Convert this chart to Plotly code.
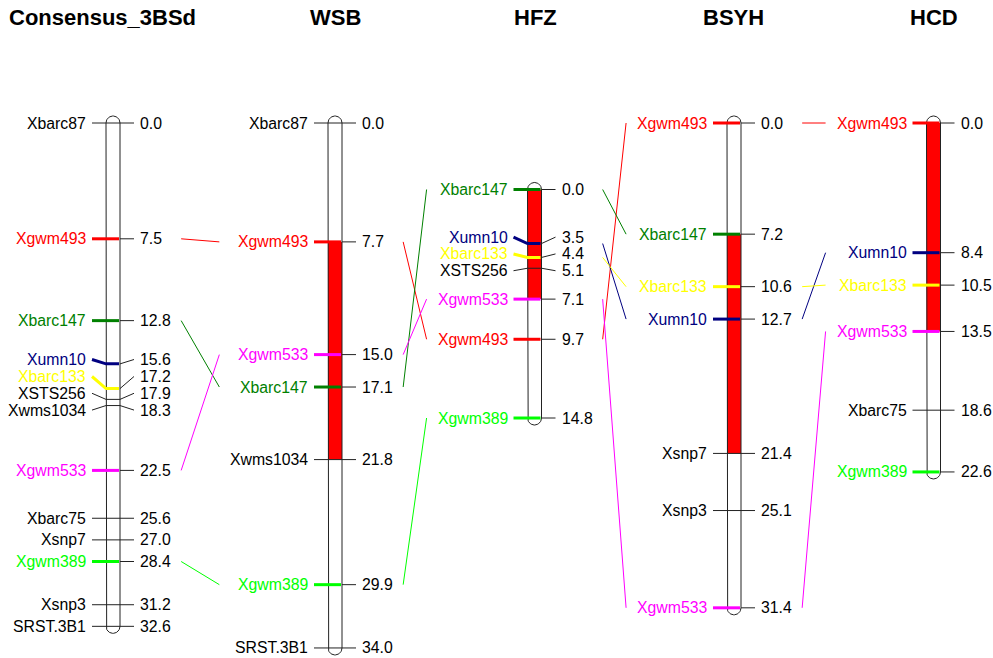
import numpy as np
import plotly.graph_objects as go

# ---------------- data ----------------
map_names = ["Consensus_3BSd", "WSB", "HFZ", "BSYH", "HCD"]

cons_markers = ["Xbarc87", "Xgwm493", "Xbarc147", "Xumn10", "Xbarc133", "XSTS256", "Xwms1034",
                "Xgwm533", "Xbarc75", "Xsnp7", "Xgwm389", "Xsnp3", "SRST.3B1"]
cons_pos = [0.0, 7.5, 12.8, 15.6, 17.2, 17.9, 18.3, 22.5, 25.6, 27.0, 28.4, 31.2, 32.6]

wsb_markers = ["Xbarc87", "Xgwm493", "Xgwm533", "Xbarc147", "Xwms1034", "Xgwm389", "SRST.3B1"]
wsb_pos = [0.0, 7.7, 15.0, 17.1, 21.8, 29.9, 34.0]

hfz_markers = ["Xbarc147", "Xumn10", "Xbarc133", "XSTS256", "Xgwm533", "Xgwm493", "Xgwm389"]
hfz_pos = [0.0, 3.5, 4.4, 5.1, 7.1, 9.7, 14.8]

bsyh_markers = ["Xgwm493", "Xbarc147", "Xbarc133", "Xumn10", "Xsnp7", "Xsnp3", "Xgwm533"]
bsyh_pos = [0.0, 7.2, 10.6, 12.7, 21.4, 25.1, 31.4]

hcd_markers = ["Xgwm493", "Xumn10", "Xbarc133", "Xgwm533", "Xbarc75", "Xgwm389"]
hcd_pos = [0.0, 8.4, 10.5, 13.5, 18.6, 22.6]

# QTL interval (red fill) per map
qtl_start = [None, 7.7, 0.0, 7.2, 0.0]
qtl_end = [None, 21.8, 7.1, 21.4, 13.5]

marker_colors = {"Xgwm493": "#FF0000", "Xbarc147": "#008000", "Xumn10": "#000080",
                 "Xbarc133": "#FFFF00", "Xgwm533": "#FF00FF", "Xgwm389": "#00FF00"}

all_markers = [cons_markers, wsb_markers, hfz_markers, bsyh_markers, hcd_markers]
all_pos = [cons_pos, wsb_pos, hfz_pos, bsyh_pos, hcd_pos]

# ---------------- layout parameters ----------------
W, H = 993, 658
SCALE = 15.44            # px per cM
TOP_PX = 123.0           # pixel of 0 cM
PX = 1.0 / SCALE         # one pixel in cM
centers = [113, 335, 534.5, 734, 933.5]
title_x = [102, 335, 535, 733, 933.5]
offsets_px = [0, 0, 66.5, 0, 0]  # vertical shift of each map in px
R = 7                    # half width of chromosome
FS = 15.8
FONT = "Liberation Sans, Arial, sans-serif"

aw = {'0': .556, '1': .556, '2': .556, '3': .556, '4': .556, '5': .556, '6': .556, '7': .556,
      '8': .556, '9': .556, '.': .278, 'X': .667, 'b': .556, 'a': .556, 'r': .333, 'c': .5,
      'g': .556, 'w': .722, 'm': .833, 'u': .556, 'n': .556, 's': .5, 'S': .667, 'T': .611,
      'R': .722, 'B': .667, 'p': .556}


def tw(s):
    return sum(aw.get(ch, .556) for ch in s) * 15.5


def spread_sym(ys, gap):
    L = list(ys)
    for _ in range(500):
        moved = False
        for i in range(1, len(L)):
            d = L[i] - L[i - 1]
            if d < gap - 1e-9:
                sh = (gap - d) / 2
                L[i - 1] -= sh
                L[i] += sh
                moved = True
        if not moved:
            break
    return L


def spread_up(ys, gap):
    L = list(ys)
    for i in range(len(L) - 2, -1, -1):
        if L[i] > L[i + 1] - gap:
            L[i] = L[i + 1] - gap
    return L


def spread(ys, gap):
    a = spread_sym(ys, gap)
    b = spread_up(ys, gap)
    return [(u + v) / 2 for u, v in zip(a, b)]


fig = go.Figure()
annotations = []
thin_x, thin_y = [], []
col_lines = {}
geo = []

for m, (names, pos) in enumerate(zip(all_markers, all_pos)):
    c = centers[m]
    off = offsets_px[m] * PX
    ys = [p + off for p in pos]
    lys = spread(ys, 16.8 * PX)
    # QTL fill
    if qtl_start[m] is not None:
        s, e = qtl_start[m] + off, qtl_end[m] + off
        fig.add_trace(go.Scatter(x=[c - R, c + R, c + R, c - R, c - R], y=[s, s, e, e, s],
                                 mode="lines", fill="toself", fillcolor="#FF0000",
                                 line=dict(width=0), hoverinfo="skip", showlegend=False))
    # outline
    y0, y1 = ys[0], ys[-1]
    phi_b = np.linspace(np.pi, 0, 30)
    phi_t = np.linspace(0, -np.pi, 30)
    ox = [c - R] + list(c + R * np.cos(phi_b)) + list(c + R * np.cos(phi_t))
    oy = [y0] + list(y1 + R * np.sin(phi_b) * PX) + list(y0 + R * np.sin(phi_t) * PX)
    fig.add_trace(go.Scatter(x=ox, y=oy, mode="lines", line=dict(color="#222222", width=1),
                             hoverinfo="skip", showlegend=False))
    # markers
    for name, p, my, ly in zip(names, pos, ys, lys):
        col = marker_colors.get(name)
        if col:
            cx, cy = col_lines.setdefault(col, ([], []))
            cx += [c - 21, c - R, c + R - 1, None]
            cy += [ly, my, my, None]
            thin_x.extend([c + R, c + 21, None])
            thin_y.extend([my, ly, None])
        else:
            thin_x.extend([c - 21, c - R, c + R, c + 21, None])
            thin_y.extend([ly, my, my, ly, None])
        annotations.append(dict(x=c - 27, y=ly, xref="x", yref="y", text=name, showarrow=False,
                                xanchor="right", yanchor="middle", borderpad=0, borderwidth=0,
                                font=dict(family=FONT, size=FS, color=col or "#000000")))
        annotations.append(dict(x=c + 27, y=ly, xref="x", yref="y", text=f"{p:.1f}", showarrow=False,
                                xanchor="left", yanchor="middle", borderpad=0, borderwidth=0,
                                font=dict(family=FONT, size=FS, color="#000000")))
    geo.append(dict(c=c, ys=dict(zip(names, ys)),
                    rw=max(tw(f"{p:.1f}") for p in pos), lw=max(tw(n) for n in names)))
    annotations.append(dict(x=title_x[m], y=1 - 17 / H, xref="x", yref="paper",
                            text=f"<b>{map_names[m]}</b>", showarrow=False,
                            xanchor="center", yanchor="middle",
                            font=dict(family=FONT, size=22, color="#000000")))

# connectors between adjacent maps
conn = {}
for m in range(len(geo) - 1):
    a, b = geo[m], geo[m + 1]
    xs = a["c"] + 27 + a["rw"] + 11
    xe = b["c"] - 27 - b["lw"] - 12
    for name, col in marker_colors.items():
        if name in a["ys"] and name in b["ys"]:
            cx, cy = conn.setdefault(col, ([], []))
            cx += [xs, xe, None]
            cy += [a["ys"][name], b["ys"][name], None]

for col, (cx, cy) in conn.items():
    fig.add_trace(go.Scatter(x=cx, y=cy, mode="lines", line=dict(color=col, width=1),
                             hoverinfo="skip", showlegend=False))

fig.add_trace(go.Scatter(x=thin_x, y=thin_y, mode="lines", line=dict(color="#222222", width=1),
                         hoverinfo="skip", showlegend=False))
for col, (cx, cy) in col_lines.items():
    fig.add_trace(go.Scatter(x=cx, y=cy, mode="lines", line=dict(color=col, width=3),
                             hoverinfo="skip", showlegend=False))

fig.update_layout(
    width=W, height=H, margin=dict(l=0, r=0, t=0, b=0),
    paper_bgcolor="white", plot_bgcolor="white",
    xaxis=dict(range=[0, W], visible=False, fixedrange=True),
    yaxis=dict(range=[(H - TOP_PX) * PX, -TOP_PX * PX], visible=False, fixedrange=True),
    annotations=annotations, showlegend=False,
)

fig.write_html("out.html")
